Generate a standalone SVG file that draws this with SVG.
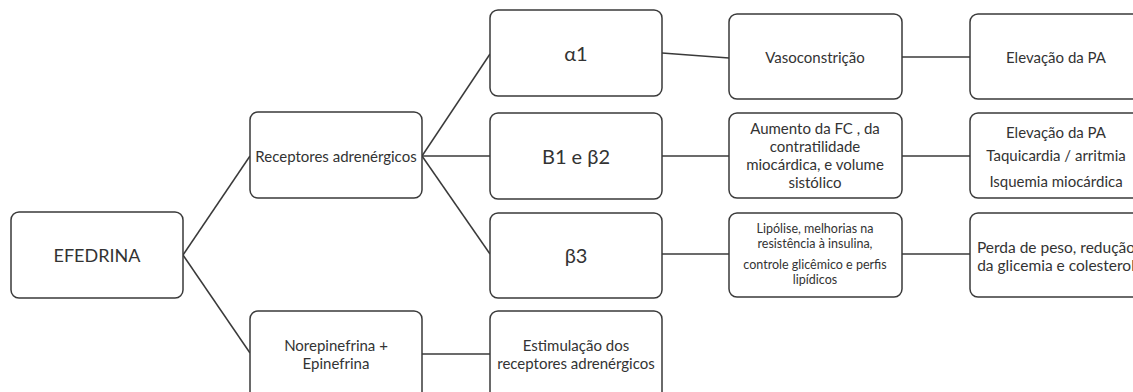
<svg xmlns="http://www.w3.org/2000/svg" width="1133" height="392" viewBox="0 0 1133 392">
<style>
.box{fill:#fff;stroke:#3a3a3a;stroke-width:1.5}
.ln{stroke:#3a3a3a;stroke-width:1.5;fill:none}
text{font-family:Lato,"Liberation Sans",sans-serif;fill:#333;text-anchor:middle;dominant-baseline:central}
.big{font-size:20px}
.mid{font-size:15px}
.sm{font-size:12.5px}
.lg{font-size:15.5px}
</style>
<rect width="1133" height="392" fill="#fff"/>
<g id="connectors">
<line class="ln" x1="183" y1="255" x2="250" y2="156"/>
<line class="ln" x1="183" y1="255" x2="250" y2="353"/>
<line class="ln" x1="422" y1="156" x2="490" y2="54"/>
<line class="ln" x1="422" y1="156" x2="490" y2="156"/>
<line class="ln" x1="422" y1="156" x2="490" y2="254"/>
<line class="ln" x1="422" y1="354" x2="490" y2="354"/>
<line class="ln" x1="662" y1="53" x2="729" y2="58"/>
<line class="ln" x1="662" y1="156" x2="729" y2="156"/>
<line class="ln" x1="662" y1="254" x2="729" y2="254"/>
<line class="ln" x1="902" y1="57" x2="970" y2="57"/>
<line class="ln" x1="902" y1="156" x2="970" y2="156"/>
<line class="ln" x1="902" y1="254" x2="970" y2="254"/>
</g>
<g id="efedrina"><rect class="box" x="11" y="212" width="172" height="86" rx="8"/><text class="big" x="97" y="255" style="font-size:18px">EFEDRINA</text></g>
<g id="receptores"><rect class="box" x="250" y="112" width="172" height="86" rx="8"/><text class="mid" x="336" y="156">Receptores adrenérgicos</text></g>
<g id="norepinefrina"><rect class="box" x="250" y="311" width="172" height="90" rx="8"/><text class="mid" x="336" y="345">Norepinefrina +</text><text class="mid" x="336" y="363">Epinefrina</text></g>
<g id="alfa1"><rect class="box" x="490" y="10" width="172" height="86" rx="8"/><text class="big" x="576" y="53">α1</text></g>
<g id="b1b2"><rect class="box" x="490" y="113" width="172" height="86" rx="8"/><text class="big" x="576" y="156">B1 e β2</text></g>
<g id="b3"><rect class="box" x="490" y="213" width="172" height="85" rx="8"/><text class="big" x="576" y="255">β3</text></g>
<g id="estimulacao"><rect class="box" x="490" y="311" width="172" height="90" rx="8"/><text class="mid" x="576" y="345">Estimulação dos</text><text class="mid" x="576" y="363">receptores adrenérgicos</text></g>
<g id="vasoconstricao"><rect class="box" x="729" y="14" width="173" height="85" rx="8"/><text class="mid" x="815" y="57">Vasoconstrição</text></g>
<g id="aumento"><rect class="box" x="729" y="113" width="173" height="85" rx="8"/><text class="mid" x="815" y="128">Aumento da FC , da</text><text class="mid" x="815" y="146">contratilidade</text><text class="mid" x="815" y="164">miocárdica, e volume</text><text class="mid" x="815" y="182">sistólico</text></g>
<g id="lipolise"><rect class="box" x="729" y="213" width="173" height="84" rx="8"/><text class="sm" x="815" y="228">Lipólise, melhorias na</text><text class="sm" x="815" y="243">resistência à insulina,</text><text class="sm" x="815" y="264">controle glicêmico e perfis</text><text class="sm" x="815" y="279">lipídicos</text></g>
<g id="elevacao1"><rect class="box" x="970" y="14" width="173" height="85" rx="8"/><text class="mid" x="1056" y="57">Elevação da PA</text></g>
<g id="elevacao2"><rect class="box" x="970" y="113" width="173" height="85" rx="8"/><text class="mid" x="1056" y="132">Elevação da PA</text><text class="mid" x="1056" y="155">Taquicardia / arritmia</text><text class="mid" x="1056" y="181">Isquemia miocárdica</text></g>
<g id="perda"><rect class="box" x="970" y="213" width="173" height="84" rx="8"/><text class="lg" x="1056" y="247">Perda de peso, redução</text><text class="lg" x="1056" y="265">da glicemia e colesterol</text></g>
</svg>
